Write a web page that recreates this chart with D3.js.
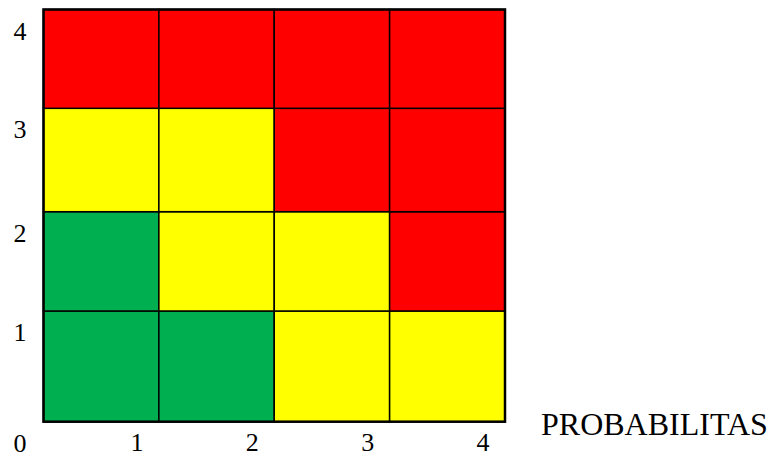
<!DOCTYPE html>
<html>
<head>
<meta charset="utf-8">
<script src="https://cdn.jsdelivr.net/npm/d3@7"></script>
<style>
  body { margin: 0; background: #fff; }
  text { font-family: "Liberation Serif", "DejaVu Serif", serif; fill: #000; }
</style>
</head>
<body>
<svg id="matrix" width="775" height="465"></svg>
<script>
var probTicks = [1, 2, 3, 4];
var impactTicks = [0, 1, 2, 3, 4];
// risk level per impact row (1 = bottom), one entry per probability column
var row1 = ["G", "G", "Y", "Y"];
var row2 = ["G", "Y", "Y", "R"];
var row3 = ["Y", "Y", "R", "R"];
var row4 = ["R", "R", "R", "R"];
var rows = [row1, row2, row3, row4];
var levelColors = { G: "#00B050", Y: "#FFFF00", R: "#FF0000" };
var xTitle = "PROBABILITAS";

var svg = d3.select("#matrix");
var x = d3.scaleLinear().domain([0, 4]).range([43.5, 505]);
// rows of the original table are not all the same height
var y = d3.scaleLinear().domain([0, 1, 2, 3, 4])
    .range([421.7, 311, 211.7, 108.3, 9.5]);

var cells = [];
rows.forEach(function(r, i) {
    r.forEach(function(lvl, j) {
	cells.push({ p: j + 1, imp: i + 1, level: lvl });
    });
});

var g = svg.append("g");
g.selectAll(".cell")
    .data(cells)
    .enter().append("rect")
    .attr("class", "cell")
    .attr("x", d => x(d.p - 1))
    .attr("y", d => y(d.imp))
    .attr("width", d => x(d.p) - x(d.p - 1))
    .attr("height", d => y(d.imp - 1) - y(d.imp))
    .style("fill", d => levelColors[d.level])
    .style("stroke", "#000")
    .style("stroke-width", 1.5);

// outer border a touch heavier
g.append("rect")
    .attr("x", x(0))
    .attr("y", y(4))
    .attr("width", x(4) - x(0))
    .attr("height", y(0) - y(4))
    .style("fill", "none")
    .style("stroke", "#000")
    .style("stroke-width", 2.5);

svg.selectAll(".ylab")
    .data(impactTicks)
    .enter().append("text")
    .attr("class", "ylab")
    .attr("x", 20)
    .attr("y", d => y(d) + 30)
    .attr("text-anchor", "middle")
    .attr("font-family", "Liberation Serif")
    .style("font-size", "26px")
    .text(d => d);

svg.selectAll(".xlab")
    .data(probTicks)
    .enter().append("text")
    .attr("class", "xlab")
    .attr("x", d => x(d) - 22)
    .attr("y", 451)
    .attr("text-anchor", "middle")
    .attr("font-family", "Liberation Serif")
    .style("font-size", "26px")
    .text(d => d);

svg.append("text")
    .attr("x", 541)
    .attr("y", 435)
    .attr("font-family", "Liberation Serif")
    .style("font-size", "32px")
    .text(xTitle);
</script>
</body>
</html>
